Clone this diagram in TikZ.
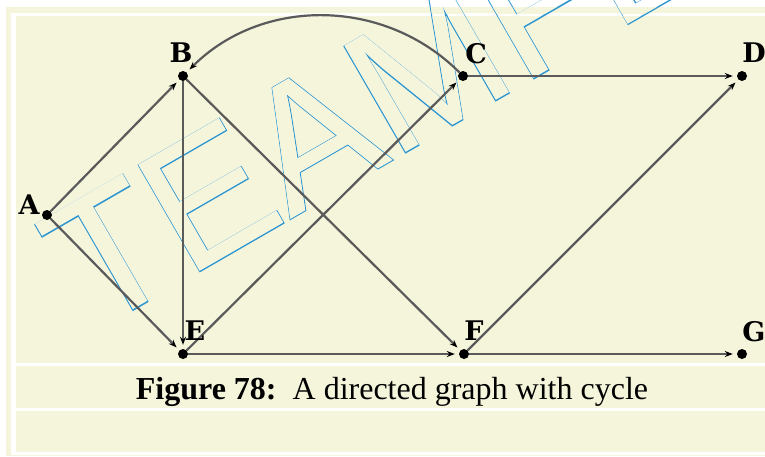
\documentclass[tikz,border=0pt]{standalone}
\usepackage{fontspec}
\setmainfont{Liberation Serif}
\newfontfamily\lblfont{DejaVu Serif}
\newfontfamily\wmbold{Liberation Sans}[FakeBold=1.0]
\newfontfamily\wmplain{Liberation Sans}
\usetikzlibrary{arrows.meta}
\definecolor{pagebg}{HTML}{F5F5DC}
\definecolor{edgegray}{HTML}{5A5A5A}
\definecolor{wmblue}{HTML}{2E96CE}
\tikzset{
  dot/.style={circle, fill=black, minimum size=10pt, inner sep=0pt},
  lbl/.style={font=\lblfont\bfseries\fontsize{27}{30}\selectfont, inner sep=0pt},
  edge/.style={draw=edgegray, line width=2.2pt, shorten >=4pt,
    -{Stealth[length=8pt, width=6pt, color=black]}},
  wmark/.style={anchor=base west, rotate=30, inner sep=0pt},
  caption/.style={font=\fontsize{32}{36}\selectfont, anchor=base, inner sep=0pt},
}

\begin{document}
\begin{tikzpicture}[x=1pt, y=-1pt]
  \useasboundingbox (0,0) rectangle (765,456);
  % ---- frame and panels
  \fill[white] (0,0) rectangle (765,456);
  \fill[pagebg] (6,7) rectangle (765,456);
  \fill[white] (11,13) rectangle (765,455);
  \fill[pagebg] (16,16) rectangle (765,363);
  \fill[pagebg] (16,366) rectangle (765,408);
  \fill[pagebg] (16,411) rectangle (765,452);
  % ---- watermark (outline)
  \node[wmark, text=wmblue] (wmout) at (93,333) {\wmbold\fontsize{178}{200}\selectfont TEAMFLY};
  \node[wmark, text=white] (wmin) at (93,333) {\wmplain\fontsize{178}{200}\selectfont TEAMFLY};
  \begin{scope}
    \clip (6,7) rectangle (765,13) (16,16) rectangle (765,363);
    \node[wmark, text=pagebg] (wmfill) at (93,333) {\wmplain\fontsize{178}{200}\selectfont TEAMFLY};
  \end{scope}
  % ---- vertices
  \node[dot] (A) at (47,215) {};
  \node[dot] (B) at (183,76) {};
  \node[dot] (C) at (463,76) {};
  \node[dot] (D) at (742,76) {};
  \node[dot] (E) at (183,354) {};
  \node[dot] (F) at (464,354) {};
  \node[dot] (G) at (742,354) {};
  % ---- edges
  \draw[edge] (A) -- (B);
  \draw[edge] (A) -- (E);
  \draw[edge] (B) -- (E);
  \draw[edge] (B) -- (F);
  \draw[edge] (C) to[bend right=45] (B);
  \draw[edge] (C) -- (D);
  \draw[edge] (E) -- (C);
  \draw[edge] (E) -- (F);
  \draw[edge] (F) -- (D);
  \draw[edge] (F) -- (G);
  % ---- vertex names
  \node[lbl] (lA) at (29,205) {A};
  \node[lbl] (lB) at (181,53) {B};
  \node[lbl] (lC) at (476,54) {C};
  \node[lbl] (lD) at (754,53) {D};
  \node[lbl] (lE) at (195,331) {E};
  \node[lbl] (lF) at (474,331) {F};
  \node[lbl] (lG) at (754,332) {G};
  % ---- caption
  \node[caption] (cap) at (392,399) {\textbf{Figure 78:}\ \ A directed graph with cycle};
\end{tikzpicture}
\end{document}
